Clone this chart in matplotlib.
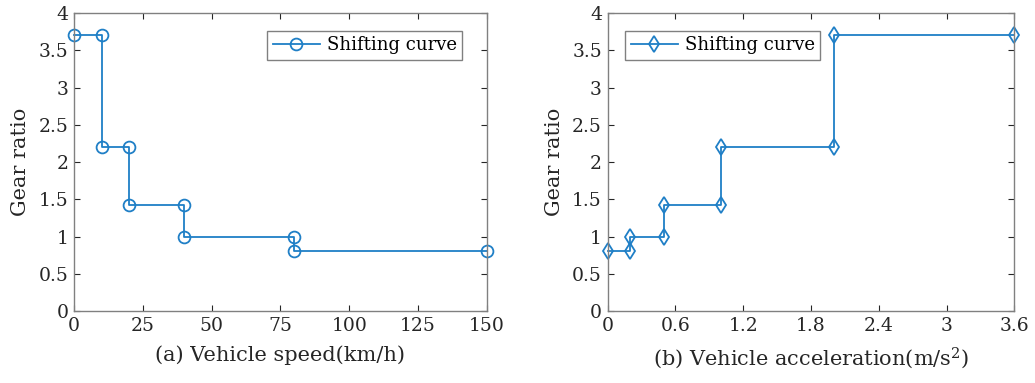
import matplotlib.pyplot as plt

# speed-based shifting curve
speed = [0, 10, 10, 20, 20, 40, 40, 80, 80, 150]
speed_ratio = [3.7, 3.7, 2.2, 2.2, 1.42, 1.42, 1, 1, 0.8, 0.8]

# acceleration-based shifting curve
accel = [0, 0.2, 0.2, 0.5, 0.5, 1, 1, 2, 2, 3.6]
accel_ratio = [0.8, 0.8, 1, 1, 1.42, 1.42, 2.2, 2.2, 3.7, 3.7]

speed_ticks = [0, 25, 50, 75, 100, 125, 150]
accel_ticks = [0, 0.6, 1.2, 1.8, 2.4, 3, 3.6]
accel_labels = ['0', '0.6', '1.2', '1.8', '2.4', '3', '3.6']
y_ticks = [0, 0.5, 1, 1.5, 2, 2.5, 3, 3.5, 4]
y_labels = ['0', '0.5', '1', '1.5', '2', '2.5', '3', '3.5', '4']

plt.rcParams['font.family'] = ['DejaVu Serif']
plt.rcParams['mathtext.fontset'] = 'dejavuserif'

blue = '#1f7fc6'
axc = '#262626'

fig = plt.figure(figsize=(10.35, 3.83), dpi=100)
ax1 = fig.add_axes([0.0715, 0.188, 0.399, 0.778])
ax2 = fig.add_axes([0.587, 0.188, 0.393, 0.778])


def style(ax, xlabel, leg_loc, leg_anchor):
    ax.set_ylim(0, 4)
    ax.set_yticks(y_ticks)
    ax.set_yticklabels(y_labels)
    ax.tick_params(direction='in', top=True, right=True, labelsize=13.5,
                   colors=axc, length=4, width=0.8, pad=4)
    for sp in ax.spines.values():
        sp.set_color('#808080')
        sp.set_linewidth(1.0)
    ax.set_ylabel('Gear ratio', fontsize=15, color=axc, labelpad=6)
    ax.set_xlabel(xlabel, fontsize=15, color=axc, labelpad=8)
    ax.legend(loc=leg_loc, bbox_to_anchor=leg_anchor, borderaxespad=0,
              fontsize=13, frameon=True, fancybox=False, framealpha=1,
              edgecolor='#808080', borderpad=0.3, handlelength=2.6,
              handletextpad=0.4)


ax1.plot(speed, speed_ratio, color=blue, lw=1.3, marker='o', ms=8.5,
         mfc='none', mew=1.3, label='Shifting curve', clip_on=False)
ax1.set_xlim(0, 150)
ax1.set_xticks(speed_ticks)
style(ax1, '(a) Vehicle speed(km/h)', 'upper right', (0.94, 0.94))

ax2.plot(accel, accel_ratio, color=blue, lw=1.3, marker='d', ms=8.5,
         mfc='none', mew=1.3, label='Shifting curve', clip_on=False)
ax2.set_xlim(0, 3.6)
ax2.set_xticks(accel_ticks)
ax2.set_xticklabels(accel_labels)
style(ax2, '(b) Vehicle acceleration(m/s$^2$)', 'upper left', (0.044, 0.94))

fig.savefig('out.png', dpi=100)
